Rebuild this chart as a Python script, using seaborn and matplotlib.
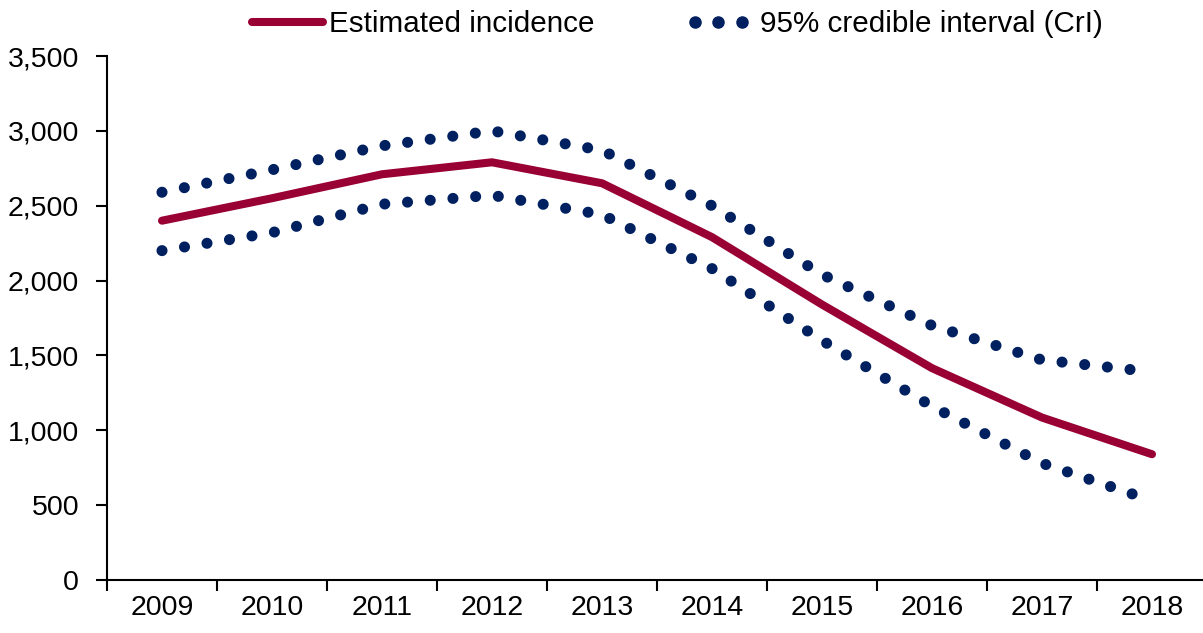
import matplotlib
matplotlib.use("Agg")
import matplotlib.pyplot as plt
import numpy as np
import pandas as pd
import seaborn as sns
from matplotlib.lines import Line2D
from matplotlib.legend_handler import HandlerLine2D
from matplotlib.ticker import FuncFormatter, FixedLocator

# valores
anos = ["2009", "2010", "2011", "2012", "2013", "2014", "2015", "2016", "2017", "2018"]
incidencia = [2400, 2550, 2710, 2790, 2650, 2290, 1840, 1415, 1085, 840]
superior = [2590, 2740, 2900, 3000, 2870, 2500, 2040, 1700, 1470, 1390]
inferior = [2200, 2320, 2510, 2570, 2440, 2080, 1600, 1160, 780, 530]

sns.set_style("white")
plt.rcParams['font.family'] = ['Liberation Sans', 'DejaVu Sans']
plt.rcParams['text.color'] = 'black'
plt.rcParams['xtick.color'] = 'black'
plt.rcParams['ytick.color'] = 'black'

df = pd.DataFrame({
    "pos": np.arange(len(anos)),
    "ano": anos,
    "incidencia": incidencia,
    "superior": superior,
    "inferior": inferior,
})

vermelho = "#990033"
azul = "#002060"
fonte = 20.5

fig = plt.figure(figsize=(12.03, 6.33), dpi=100)
ax = fig.add_axes([107 / 1203, 53 / 633, 1096 / 1203, 524 / 633])

sns.lineplot(data=df, x="pos", y="incidencia", ax=ax, color=vermelho, lw=5.8,
             solid_capstyle="round")
pontos = dict(color=azul, lw=8, linestyle=(0, (0.001, 2.05)), dash_capstyle="round")
sns.lineplot(data=df, x="pos", y="superior", ax=ax, **pontos)
sns.lineplot(data=df, x="pos", y="inferior", ax=ax, **pontos)

# eixos
ax.set_xlim(-0.5, len(anos) - 0.5 - 4 / 110)
ax.set_ylim(0, 3500)
ax.set_yticks(np.arange(0, 3501, 500))
ax.yaxis.set_major_formatter(FuncFormatter(lambda v, p: f"{int(v):,}"))

ax.xaxis.set_major_locator(FixedLocator(np.arange(-0.5, len(anos), 1)))
ax.xaxis.set_major_formatter(FuncFormatter(lambda v, p: ""))
ax.xaxis.set_minor_locator(FixedLocator(df["pos"]))
ax.set_xticklabels(anos, minor=True)
ax.tick_params(axis="x", which="major", length=8, width=1.5, direction="out")
ax.tick_params(axis="x", which="minor", length=0, pad=11, labelsize=fonte)
ax.tick_params(axis="y", length=8, width=1.5, direction="out", labelsize=fonte, pad=12)
ax.tick_params(bottom=True, left=True, which="both")

for s in ["top", "right"]:
    ax.spines[s].set_visible(False)
for s in ["left", "bottom"]:
    ax.spines[s].set_color("black")
    ax.spines[s].set_linewidth(1.5)

ax.set_xlabel("")
ax.set_ylabel("")

# legenda
h_linha = Line2D([], [], color=vermelho, lw=5.8, solid_capstyle="round")
h_pontos = Line2D([], [], color=azul, ls="none", marker="o", markersize=8)
fig.legend([h_linha, h_pontos], ["Estimated incidence", "95% credible interval (CrI)"],
           handler_map={h_pontos: HandlerLine2D(numpoints=3, marker_pad=0.42)},
           loc="upper center", bbox_to_anchor=(0.563, 1.026), ncol=2,
           frameon=False, fontsize=21.3, handlelength=2.4, handletextpad=0.2,
           columnspacing=3.0)

fig.savefig("out.png", dpi=100)
